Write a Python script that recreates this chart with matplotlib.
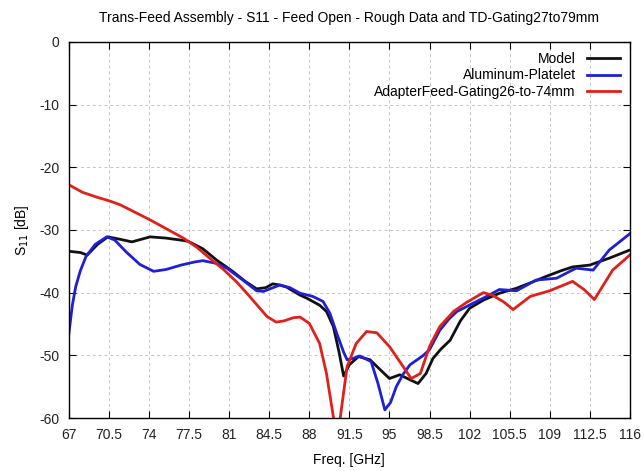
import matplotlib
matplotlib.use("Agg")
import matplotlib.pyplot as plt

plt.rcParams["font.family"] = ["Liberation Sans", "DejaVu Sans"]
plt.rcParams["axes.unicode_minus"] = False

# Model
model_f = [67, 68, 68.6, 69.5, 70.4, 71.5, 72.5, 73.3, 74.1, 75.5, 76.7, 77.4, 78.7,
           79.9, 81.3, 82.4, 83.4, 84.2, 84.8, 85.5, 86, 87.2, 87.8, 88.9, 89.5, 90.1,
           90.6, 91, 91.5, 92.3, 93.3, 94.2, 95, 95.9, 96.8, 97.5, 98.2, 98.8, 99.5,
           100.3, 101.2, 102, 103.2, 104.6, 106.1, 107.5, 108.7, 110, 111, 112.5,
           114.2, 116]
model_s = [-33.4, -33.6, -34.0, -32.3, -31.1, -31.5, -31.9, -31.5, -31.1, -31.3, -31.6,
           -31.8, -33.0, -34.8, -36.6, -38.2, -39.4, -39.2, -38.6, -38.8, -39.1, -40.4,
           -40.9, -42.0, -43.0, -45.4, -49.5, -53.3, -51.5, -50.2, -50.7, -52.3, -53.7,
           -53.1, -53.9, -54.5, -52.9, -50.5, -49.0, -47.6, -44.5, -42.5, -41.2, -40.1,
           -39.3, -38.3, -37.4, -36.5, -35.9, -35.6, -34.5, -33.2]

# Aluminum-Platelet
alu_f = [67, 67.3, 67.6, 68, 68.5, 69.3, 70.3, 71, 72, 73.2, 74.4, 75.5, 76.8, 78,
         78.7, 79.8, 80.8, 82.2, 83.4, 84, 84.7, 85.4, 86.3, 87.2, 88.3, 89.2, 89.8,
         90.4, 91, 91.3, 91.8, 92.4, 93.4, 94, 94.6, 95.1, 95.6, 96.2, 96.8, 97.9,
         98.5, 99.4, 100.2, 100.9, 102.3, 103.5, 104.6, 106.1, 107.8, 109.6, 111.3,
         112.8, 114.2, 116]
alu_s = [-46.5, -42.0, -39.0, -36.5, -34.2, -32.3, -31.1, -31.6, -33.5, -35.5, -36.6,
         -36.3, -35.6, -35.1, -34.9, -35.3, -36.1, -38.0, -39.7, -39.8, -39.3, -38.8,
         -39.2, -40.1, -40.6, -41.4, -43.3, -46.5, -49.5, -50.7, -50.5, -50.1, -51.0,
         -54.5, -58.7, -57.5, -55.0, -53.0, -51.5, -50.1, -49.1, -46.0, -44.2, -43.0,
         -41.7, -40.6, -39.5, -39.7, -38.0, -37.7, -36.1, -36.4, -33.2, -30.6]

# AdapterFeed-Gating26-to-74mm
gate_f = [67, 68.2, 69.5, 70.6, 71.5, 72.8, 74.1, 75.5, 77, 78.2, 79.3, 80.5, 81.6,
          82.5, 83.4, 84.3, 85.1, 85.8, 86.6, 87.2, 88, 88.9, 89.5, 90.1, 90.4, 90.7,
          91.3, 92.1, 93, 93.9, 95, 96.2, 96.9, 97.7, 98.5, 99.4, 100.6, 101.7, 103.2,
          104, 105, 105.8, 107.3, 109, 111, 112, 112.9, 114.5, 116]
gate_s = [-22.8, -24.0, -24.8, -25.4, -26.0, -27.2, -28.4, -29.8, -31.3, -32.8, -34.5,
          -36.3, -38.2, -40.0, -41.9, -43.8, -44.7, -44.5, -44.0, -43.9, -44.9, -48.1,
          -52.9, -59.8, -63.0, -60.0, -51.8, -48.1, -46.2, -46.4, -48.6, -51.8, -53.7,
          -52.9, -48.6, -45.4, -43.0, -41.6, -40.0, -40.4, -41.5, -42.7, -40.6, -39.7,
          -38.2, -39.5, -41.1, -36.4, -34.0]

xticks = [67, 70.5, 74, 77.5, 81, 84.5, 88, 91.5, 95, 98.5, 102, 105.5, 109, 112.5, 116]
yticks = [0, -10, -20, -30, -40, -50, -60]

fig = plt.figure(figsize=(6.44, 4.71), dpi=100)
ax = fig.add_axes([0.107, 0.1125, 0.871, 0.7985])

ax.plot(model_f, model_s, color="#111111", lw=2, label="Model")
ax.plot(alu_f, alu_s, color="#1f1fd6", lw=2, label="Aluminum-Platelet")
ax.plot(gate_f, gate_s, color="#e0201a", lw=2, label="AdapterFeed-Gating26-to-74mm")

ax.set_xlim(67, 116)
ax.set_ylim(-60, 0)
ax.set_xticks(xticks)
ax.set_xticklabels(["%g" % t for t in xticks])
ax.set_yticks(yticks)
ax.tick_params(direction="in", top=True, right=True, length=5, labelsize=10,
               pad=7, labelcolor="#222222")
ax.grid(True, ls=(0, (3, 3)), color="#c4c4c4", lw=0.7)
for s in ax.spines.values():
    s.set_linewidth(1)

ax.set_title("Trans-Feed Assembly - S11 - Feed Open - Rough Data and TD-Gating27to79mm",
             fontsize=10, pad=14)
ax.set_xlabel("Freq. [GHz]", fontsize=10, labelpad=8)
ax.set_ylabel("S$_{11}$ [dB]", fontsize=10, labelpad=6)

leg = ax.legend(loc="upper right", markerfirst=False, frameon=False, fontsize=10,
                handlelength=2.4, labelspacing=0.2, borderaxespad=0.3)

plt.savefig("out.png", dpi=100)
